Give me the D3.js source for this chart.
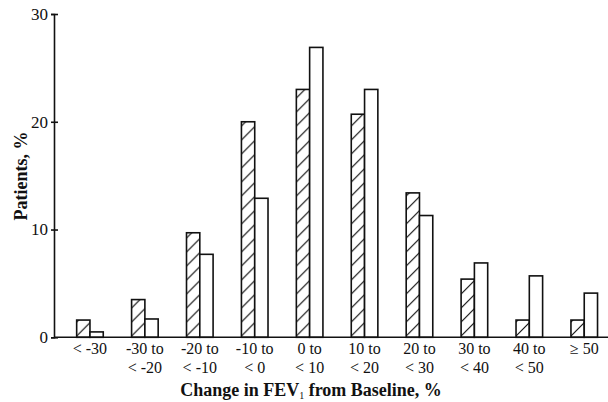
<!DOCTYPE html>
<html>
<head>
<meta charset="utf-8">
<script src="https://cdn.jsdelivr.net/npm/d3@7"></script>
<style>
  body { margin: 0; background: #fff; }
  #chart { width: 608px; height: 402px; }
</style>
</head>
<body>
<div id="chart"></div>
<script>
var categories = [
    ["< -30"], ["-30 to", "< -20"], ["-20 to", "< -10"], ["-10 to", "< 0"],
    ["0 to", "< 10"], ["10 to", "< 20"], ["20 to", "< 30"], ["30 to", "< 40"],
    ["40 to", "< 50"], ["\u2265 50"]
];
var hatchedValues = [1.6, 3.5, 9.7, 20, 23, 20.7, 13.4, 5.4, 1.6, 1.6];
var openValues = [0.5, 1.7, 7.7, 12.9, 26.9, 23, 11.3, 6.9, 5.7, 4.1];
var yTicks = [0, 10, 20, 30];

var serif = "Liberation Serif";

var width = 608, height = 402;
var svg = d3.select("#chart")
    .append("svg")
    .attr("width", width)
    .attr("height", height);

// hatch pattern for the first series
var defs = svg.append("defs");
var pat = defs.append("pattern")
    .attr("id", "hatch")
    .attr("patternUnits", "userSpaceOnUse")
    .attr("width", 14)
    .attr("height", 14);
pat.append("rect").attr("width", 14).attr("height", 14).attr("fill", "#fff");
pat.append("path")
    .attr("d", "M0,14 L14,0 M-3,3 L3,-3 M11,17 L17,11")
    .attr("stroke", "#111")
    .attr("stroke-width", 1.2);

var keys = categories.map(function(d, i) { return i; });

var x = d3.scaleBand()
    .domain(keys)
    .range([62.5, 611.7])
    .paddingInner(0.516)
    .paddingOuter(0.258);

var xSub = d3.scaleBand()
    .domain(["hatched", "open"])
    .range([0, x.bandwidth()]);

var y = d3.scaleLinear()
    .domain([0, 30])
    .range([337.3, 14]);

var rows = keys.map(function(i) {
    return { key: i, hatched: hatchedValues[i], open: openValues[i] };
});

var groups = svg.selectAll("g.grp")
    .data(rows)
    .enter()
    .append("g")
    .attr("class", "grp")
    .attr("transform", function(d) { return "translate(" + x(d.key) + ",0)"; });

groups.selectAll("rect")
    .data(function(d) {
        return [{ s: "hatched", v: d.hatched }, { s: "open", v: d.open }];
    })
    .enter()
    .append("rect")
    .attr("x", function(d) { return xSub(d.s); })
    .attr("y", function(d) { return y(d.v); })
    .attr("width", xSub.bandwidth())
    .attr("height", function(d) { return y(0) - y(d.v); })
    .attr("fill", function(d) { return d.s === "hatched" ? "url(#hatch)" : "#fff"; })
    .attr("stroke", "#111")
    .attr("stroke-width", 1.6);

// y axis
var yAxis = svg.append("g")
    .attr("transform", "translate(54,0)")
    .call(d3.axisLeft(y).tickValues(yTicks).tickSize(3).tickPadding(3));
yAxis.attr("font-family", serif).attr("font-size", 17);
yAxis.select(".domain").attr("stroke", "#111").attr("stroke-width", 1.6);
yAxis.selectAll(".tick line")
    .attr("x1", 4).attr("x2", -3)
    .attr("stroke", "#111").attr("stroke-width", 1.6);
yAxis.selectAll(".tick text")
    .attr("font-family", serif)
    .attr("fill", "#111");

// x axis line
svg.append("line")
    .attr("x1", 54).attr("x2", 608)
    .attr("y1", y(0)).attr("y2", y(0))
    .attr("stroke", "#111")
    .attr("stroke-width", 1.6);

// category labels
var lab = svg.selectAll("text.cat")
    .data(rows)
    .enter()
    .append("text")
    .attr("class", "cat")
    .attr("text-anchor", "middle")
    .attr("font-family", serif)
    .attr("fill", "#111")
    .attr("font-size", 16);
lab.each(function(d) {
    var t = d3.select(this);
    var cx = x(d.key) + x.bandwidth() / 2;
    categories[d.key].forEach(function(line, j) {
        t.append("tspan")
            .attr("x", cx)
            .attr("y", 354 + j * 19)
            .text(line);
    });
});

// axis titles
var xt = svg.append("text")
    .attr("x", 311)
    .attr("y", 396)
    .attr("text-anchor", "middle")
    .attr("font-family", serif)
    .attr("fill", "#111")
    .attr("font-size", 18)
    .attr("font-weight", "bold");
xt.append("tspan").text("Change in FEV");
xt.append("tspan").attr("dy", 3).attr("font-size", 10).attr("font-weight", "normal").text("1");
xt.append("tspan").attr("dy", -3).text(" from Baseline, %");

svg.append("text")
    .attr("transform", "translate(27,176) rotate(-90)")
    .attr("text-anchor", "middle")
    .attr("font-family", serif)
    .attr("fill", "#111")
    .attr("font-size", 18)
    .attr("font-weight", "bold")
    .text("Patients, %");
</script>
</body>
</html>
